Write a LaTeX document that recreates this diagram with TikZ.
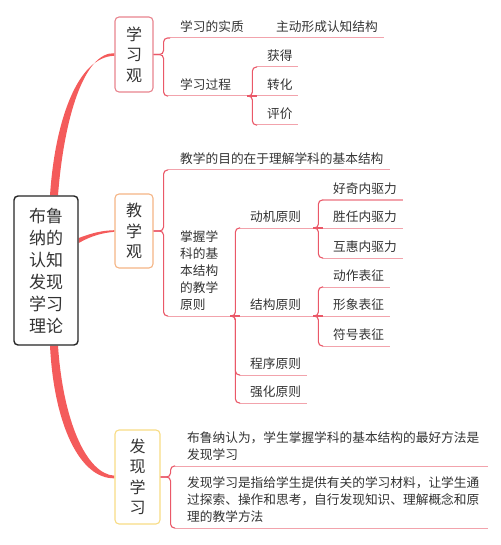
\documentclass[tikz,border=0pt]{standalone}
\usepackage{fontspec}
\setmainfont{Noto Sans CJK SC}
\usetikzlibrary{calc,backgrounds}
\definecolor{txt}{HTML}{333333}
\definecolor{thickc}{HTML}{F45B5B}
\definecolor{brc}{HTML}{EA5868}
\definecolor{ulc}{HTML}{F2A3AC}
\definecolor{bxa}{HTML}{E8848E}
\definecolor{bxb}{HTML}{F5B585}
\definecolor{bxc}{HTML}{F8DC85}
\begin{document}
\begin{tikzpicture}[x=1pt,y=-1pt,
  every node/.style={text=txt},
  rootbox/.style={draw=black!85, line width=1.4pt, rounded corners=4pt, fill=white,
    align=center, inner sep=0pt, minimum width=64pt, minimum height=149pt,
    font=\fontsize{17}{22}\selectfont},
  mainbox/.style={draw=#1, line width=1.1pt, rounded corners=4pt, fill=white,
    align=center, inner sep=0pt, font=\fontsize{16}{20.5}\selectfont},
  leaf/.style 2 args={anchor=south west, inner xsep=0pt, inner ysep=5.5pt,
    text width=#2pt, align=left, font=\fontsize{12.7}{17}\selectfont,
    execute at begin node={\leftskip=#1pt\relax}},
  br/.style={draw=brc, line width=1.1pt, rounded corners=4pt},
  ul/.style={draw=ulc, line width=1pt},
  thk/.style={fill=thickc}
]
\useasboundingbox (0,0) rectangle (500,545);

% main nodes
\node[rootbox] (root) at (46,270.5) {布鲁\\纳的\\认知\\发现\\学习\\理论};
\node[mainbox=bxa, minimum width=38pt, minimum height=75pt] (xxg) at (134,54.5) {学\\习\\观};
\node[mainbox=bxb, minimum width=38pt, minimum height=74pt] (jxg) at (134,231) {教\\学\\观};
\node[mainbox=bxc, minimum width=45pt, minimum height=94pt] (fxxx) at (137.5,477) {发\\现\\学\\习};

% 学习观 leaves
\node[leaf={10}{100}] (sz) at (170,38) {学习的实质};
\node[leaf={6}{114}] (zd) at (270,38) {主动形成认知结构};
\node[leaf={12}{79}] (gc) at (168,96) {学习过程};
\node[leaf={10}{41}] (hd) at (257,67) {获得};
\node[leaf={10}{41}] (zh) at (257,96) {转化};
\node[leaf={10}{41}] (pj) at (257,125) {评价};

% 教学观 leaves
\node[leaf={12}{222}] (md) at (168,170) {教学的目的在于理解学科的基本结构};
\node[leaf={12}{62}] (zw) at (168,316) {掌握学\\科的基\\本结构\\的教学\\原则};
\node[leaf={10}{73}] (dj) at (240,228) {动机原则};
\node[leaf={10}{73}] (jg) at (240,316) {结构原则};
\node[leaf={10}{67}] (cx) at (240,375) {程序原则};
\node[leaf={10}{67}] (qh) at (240,403) {强化原则};
\node[leaf={10}{80}] (hq) at (323,200) {好奇内驱力};
\node[leaf={10}{80}] (sr) at (323,228) {胜任内驱力};
\node[leaf={10}{80}] (hh) at (323,258) {互惠内驱力};
\node[leaf={10}{67}] (dz) at (323,287) {动作表征};
\node[leaf={10}{67}] (xx) at (323,316) {形象表征};
\node[leaf={10}{67}] (fh) at (323,346) {符号表征};

% 发现学习 leaves
\node[leaf={12}{313}] (brl) at (175,466) {布鲁纳认为，学生掌握学科的基本结构的最好方法是\\发现学习};
\node[leaf={12}{313}] (fxl) at (175,528) {发现学习是指给学生提供有关的学习材料，让学生通\\过探索、操作和思考，自行发现知识、理解概念和原\\理的教学方法};

\begin{scope}[on background layer]
% thick tapered curves
\fill[thk] ($(root.north)+(4,0)$) .. controls (55,120) and (78,56.5) .. ($(xxg.west)+(0,1.3)$)
  -- ($(xxg.west)+(0,-1.3)$) .. controls (84,52) and (64,118) .. ($(root.north)+(12,0)$) -- cycle;
\fill[thk] ($(root.east)+(0,-32.5)$) .. controls (92,233) and (102,230.5) .. ($(jxg.west)+(0,-0.8)$)
  -- ($(jxg.west)+(0,0.8)$) .. controls (102,233) and (92,235.5) .. ($(root.east)+(0,-27.5)$) -- cycle;
\fill[thk] ($(root.south)+(4,0)$) .. controls (54,425) and (80,479) .. ($(fxxx.west)+(0,1.3)$)
  -- ($(fxxx.west)+(0,-1.3)$) .. controls (86,474) and (63,420) .. ($(root.south)+(12,0)$) -- cycle;
\end{scope}

% underlines
\foreach \n in {sz,zd,gc,hd,zh,pj,md,zw,dj,jg,cx,qh,hq,sr,hh,dz,xx,fh,brl,fxl}
  \draw[ul] (\n.south west) -- (\n.south east);

% brackets
\draw[br] (xxg.east) -- ++(10,0) |- (sz.south west);
\draw[br] (xxg.east) -- ++(10,0) |- (gc.south west);
\draw[br] (gc.south east) -- ++(5,0) |- (hd.south west);
\draw[br] (gc.south east) -- (zh.south west);
\draw[br] (gc.south east) -- ++(5,0) |- (pj.south west);

\draw[br] (jxg.east) -- ++(10,0) |- (md.south west);
\draw[br] (jxg.east) -- ++(10,0) |- (zw.south west);
\draw[br] (zw.south east) -- ++(5,0) |- (dj.south west);
\draw[br] (zw.south east) -- (jg.south west);
\draw[br] (zw.south east) -- ++(5,0) |- (cx.south west);
\draw[br] (zw.south east) -- ++(5,0) |- (qh.south west);
\draw[br] (dj.south east) -- ++(5,0) |- (hq.south west);
\draw[br] (dj.south east) -- (sr.south west);
\draw[br] (dj.south east) -- ++(5,0) |- (hh.south west);
\draw[br] (jg.south east) -- ++(5,0) |- (dz.south west);
\draw[br] (jg.south east) -- (xx.south west);
\draw[br] (jg.south east) -- ++(5,0) |- (fh.south west);

\draw[br] (fxxx.east) -- ++(10,0) |- (brl.south west);
\draw[br] (fxxx.east) -- ++(10,0) |- (fxl.south west);
\end{tikzpicture}
\end{document}
